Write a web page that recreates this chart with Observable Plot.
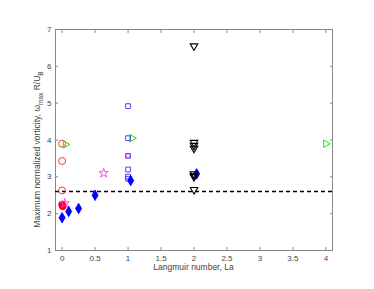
<!DOCTYPE html>
<html><head><meta charset="utf-8">
<script src="https://cdn.jsdelivr.net/npm/d3@7"></script>
<script src="https://cdn.jsdelivr.net/npm/@observablehq/plot@0.6"></script>
<style>body{margin:0;background:#fff} svg{display:block}</style>
</head><body><div id="chart"></div>
<script>
const xTicks = [0, 0.5, 1, 1.5, 2, 2.5, 3, 3.5, 4];
const yTicks = [1, 2, 3, 4, 5, 6, 7];
const threshold = 2.6;

// red open circles
const circleX = [0, 0, 0];
const circleY = [3.9, 3.43, 2.63];
// red filled circles
const redDotX = [0, 0.01];
const redDotY = [2.25, 2.2];
// magenta stars
const starX = [0.04, 0.63];
const starY = [2.28, 3.1];
// green right-pointing triangles
const greenX = [0.05, 1.06, 4.0];
const greenY = [3.88, 4.05, 3.9];
// blue open squares
const squareX = [1, 1, 1, 1, 1, 1];
const squareY = [4.92, 4.05, 3.57, 3.2, 3.01, 2.95];
// magenta open square
const magSquareX = [1];
const magSquareY = [3.57];
// blue filled diamonds
const diamondX = [0, 0.1, 0.25, 0.5, 1.04, 2.04];
const diamondY = [1.89, 2.06, 2.14, 2.5, 2.9, 3.08];
// black down-pointing triangles
const blackX = [2, 2, 2, 2, 2, 2, 2, 2];
const blackY = [6.55, 3.93, 3.85, 3.77, 3.08, 3.04, 3.0, 2.65];

const pts = (xs, ys) => xs.map((x, i) => ({x, y: ys[i]}));

const axisColor = "#888";
const fmt = d => String(d);
const chart = Plot.plot({
  width: 374, height: 289,
  marginLeft: 55, marginRight: 42, marginTop: 29, marginBottom: 39,
  style: {fontFamily: "Liberation Sans, Arial, sans-serif", fontSize: "8px", color: "#444", background: "#fff"},
  x: {domain: [-0.1, 4.1]},
  y: {domain: [1, 7]},
  marks: [
    Plot.frame({stroke: axisColor}),
    Plot.axisX(xTicks, {anchor: "bottom", tickSize: -3, tickFormat: () => "", stroke: axisColor, label: null}),
    Plot.axisX(xTicks, {anchor: "top", tickSize: -3, tickFormat: () => "", stroke: axisColor, label: null}),
    Plot.axisX(xTicks, {anchor: "bottom", tickSize: 0, tickPadding: 5, tickFormat: fmt, label: null, fill: "#444"}),
    Plot.axisY(yTicks, {anchor: "left", tickSize: -3, tickFormat: () => "", stroke: axisColor, label: null}),
    Plot.axisY(yTicks, {anchor: "right", tickSize: -3, tickFormat: () => "", stroke: axisColor, label: null}),
    Plot.axisY(yTicks, {anchor: "left", tickSize: 0, tickPadding: 4, tickFormat: fmt, label: null, fill: "#444"}),
    Plot.ruleY([threshold], {stroke: "#000", strokeWidth: 1.4, strokeDasharray: "4,3"}),
    Plot.dot(pts(circleX, circleY), {x: "x", y: "y", symbol: "circle", r: 3.5, stroke: "#ff2020", fill: "none", strokeWidth: 0.9}),
    Plot.dot(pts(redDotX, redDotY), {x: "x", y: "y", symbol: "circle", r: 3.4, stroke: "#ff0000", fill: "#ff0000", strokeWidth: 0.9}),
    Plot.dot(pts(starX, starY), {x: "x", y: "y", symbol: "star", r: 2.9, stroke: "#ff33ff", fill: "none", strokeWidth: 0.9}),
    Plot.dot(pts(greenX, greenY), {x: "x", y: "y", symbol: "triangle2", rotate: 90, r: 3.6, stroke: "#00ee00", fill: "none", strokeWidth: 1}),
    Plot.dot(pts(squareX, squareY), {x: "x", y: "y", symbol: "square2", r: 3.0, stroke: "#3333ff", fill: "none", strokeWidth: 0.9}),
    Plot.dot(pts(magSquareX, magSquareY), {x: "x", y: "y", symbol: "square2", r: 2.4, stroke: "#dd33dd", fill: "none", strokeWidth: 0.9}),
    Plot.dot(pts(diamondX, diamondY), {x: "x", y: "y", symbol: "diamond", r: 3.2, stroke: "#0000ff", fill: "#0000ff", strokeWidth: 0.8}),
    Plot.dot(pts(blackX, blackY), {x: "x", y: "y", symbol: "triangle2", rotate: 180, r: 3.6, stroke: "#000", fill: "none", strokeWidth: 1.1})
  ]
});
document.getElementById("chart").appendChild(chart);

// axis titles (with sub-scripts) placed from the plot's scales
const sx = chart.scale("x"), sy = chart.scale("y");
const svg = d3.select(chart);
const xMid = (sx.apply(-0.1) + sx.apply(4.1)) / 2;
const yMid = (sy.apply(1) + sy.apply(7)) / 2 + 10;
svg.append("text")
  .attr("x", xMid).attr("y", sy.apply(1) + 20)
  .attr("text-anchor", "middle").attr("fill", "#444")
  .style("font-size", "8.5px").style("font-family", "Liberation Sans, Arial, sans-serif")
  .text("Langmuir number, La");
const yl = svg.append("text")
  .attr("transform", `translate(40,${yMid}) rotate(-90)`)
  .attr("text-anchor", "middle").attr("fill", "#444")
  .style("font-size", "8.5px").style("font-family", "Liberation Sans, Arial, sans-serif");
yl.append("tspan").text("Maximum normalized vorticity, ω");
yl.append("tspan").attr("dy", 3).style("font-size", "6.5px").text("max");
yl.append("tspan").attr("dy", -3).text(" R/U");
yl.append("tspan").attr("dy", 3).style("font-size", "6.5px").text("B");
</script>
</body></html>
